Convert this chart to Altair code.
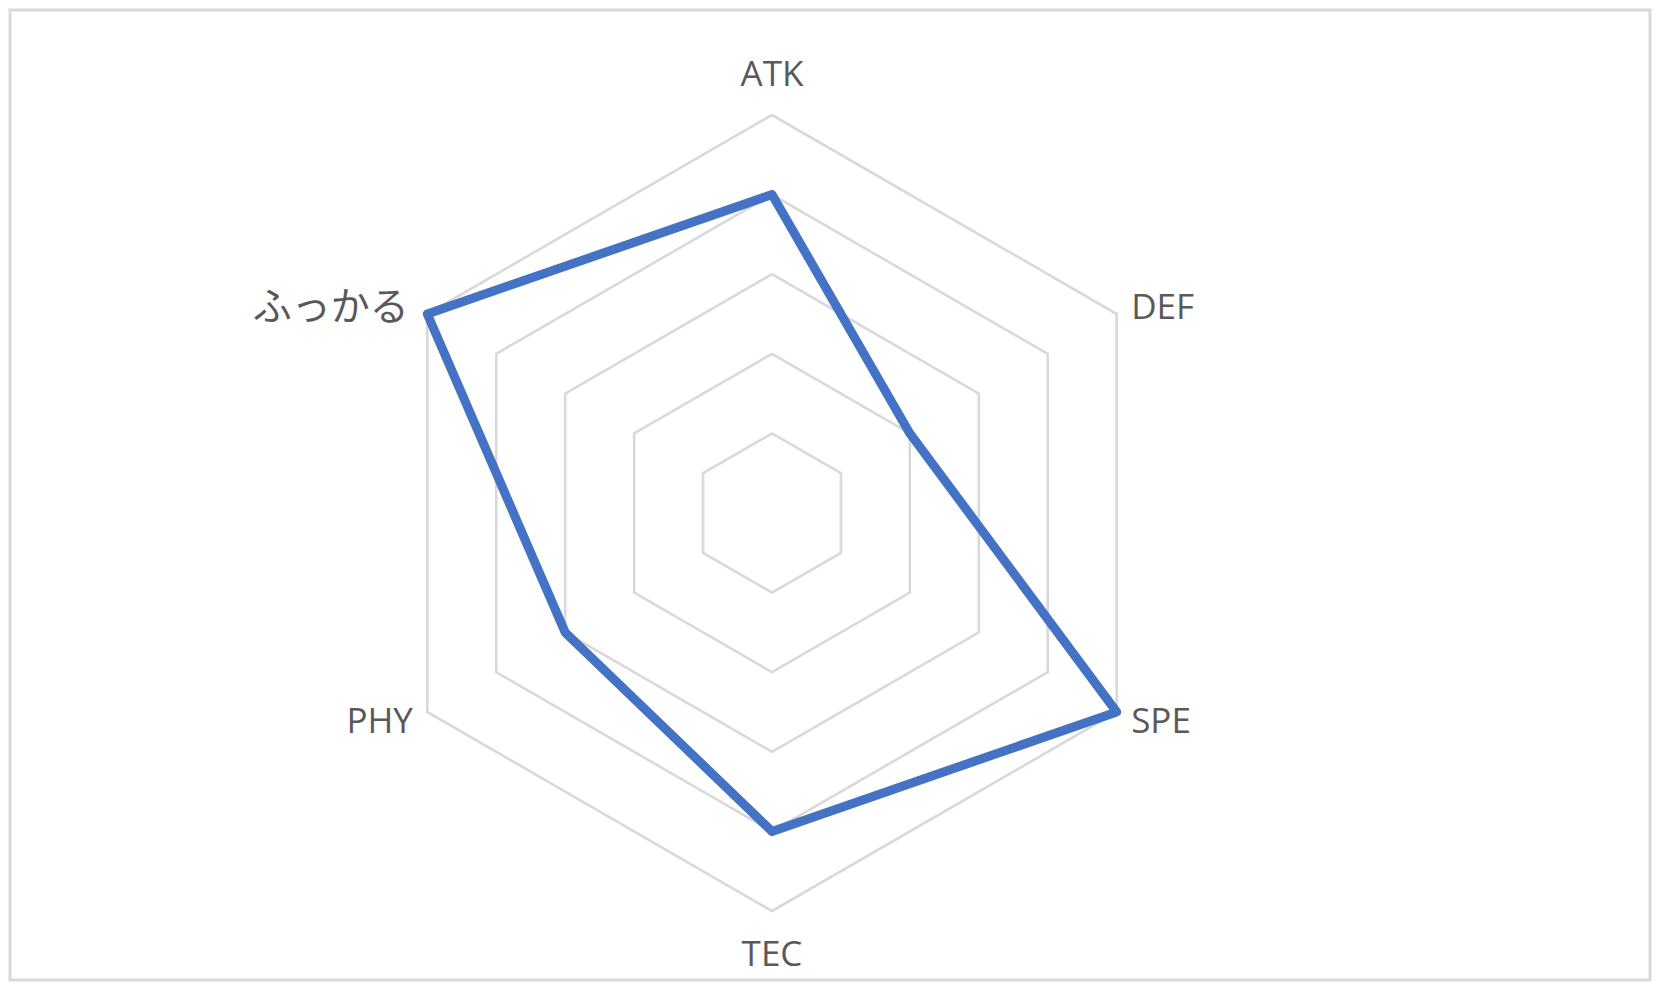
import altair as alt
import pandas as pd

# ---- data ----
categories = ["ATK", "DEF", "SPE", "TEC", "PHY", "ふっかる"]
values = [4, 2, 5, 4, 3, 5]
levels = [1, 2, 3, 4, 5]

n = len(categories)

grid_rows = []
for lv in levels:
    for i in range(n + 1):
        grid_rows.append({"level": lv, "idx": i, "k": i % n, "r": lv})
grid_df = pd.DataFrame(grid_rows)

series_df = pd.DataFrame({
    "idx": list(range(n + 1)),
    "k": [i % n for i in range(n + 1)],
    "r": values + values[:1],
})
label_df = pd.DataFrame({"k": list(range(n)), "label": categories})

PX = 79.6          # pixels per unit
W, H = 1640, 970
CX, CY = 762, 503  # centre in view coordinates

xscale = alt.Scale(domain=[-CX / PX, (W - CX) / PX], nice=False, zero=False)
yscale = alt.Scale(domain=[-(H - CY) / PX, CY / PX], nice=False, zero=False)

grid = alt.Chart(grid_df).transform_calculate(
    ang="datum.k * 2 * PI / 6"
).transform_calculate(
    px="datum.r * sin(datum.ang)", py="datum.r * cos(datum.ang)"
).mark_line(color="#d9d9d9", strokeWidth=2.6, strokeJoin="round").encode(
    x=alt.X("px:Q", scale=xscale, axis=None),
    y=alt.Y("py:Q", scale=yscale, axis=None),
    detail="level:N",
    order=alt.Order("idx:Q"),
)

series = alt.Chart(series_df).transform_calculate(
    ang="datum.k * 2 * PI / 6"
).transform_calculate(
    px="datum.r * sin(datum.ang)", py="datum.r * cos(datum.ang)"
).mark_line(color="#4472C4", strokeWidth=9, strokeJoin="round", strokeCap="round").encode(
    x=alt.X("px:Q", scale=xscale, axis=None),
    y=alt.Y("py:Q", scale=yscale, axis=None),
    order=alt.Order("idx:Q"),
)

lab_base = alt.Chart(label_df).transform_calculate(
    ang="datum.k * 2 * PI / 6"
).transform_calculate(
    lr="abs(cos(datum.ang)) > 0.99 ? 5.53 : 5.21"
).transform_calculate(
    px="datum.lr * sin(datum.ang)", py="datum.lr * cos(datum.ang)",
    latin="test(/^[A-Za-z]+$/, datum.label) ? 1 : 0",
)

enc = dict(
    x=alt.X("px:Q", scale=xscale, axis=None),
    y=alt.Y("py:Q", scale=yscale, axis=None),
    text="label:N",
)

lab_center = lab_base.transform_filter("abs(sin(datum.ang)) < 0.1").mark_text(
    align="center", baseline="middle", font="Open Sans", fontSize=35, color="#595959", dy=2
).encode(**enc)

lab_left = lab_base.transform_filter("sin(datum.ang) > 0.1").mark_text(
    align="left", baseline="middle", font="Open Sans", fontSize=35, color="#595959", dy=2
).encode(**enc)

lab_right = lab_base.transform_filter("sin(datum.ang) < -0.1 && datum.latin == 1").mark_text(
    align="right", baseline="middle", font="Open Sans", fontSize=35, color="#595959", dy=2
).encode(**enc)

lab_right_jp = lab_base.transform_filter("sin(datum.ang) < -0.1 && datum.latin == 0").mark_text(
    align="right", baseline="middle", font="Noto Sans CJK JP", fontSize=39,
    color="#595959", dy=2, dx=-4
).encode(**enc)

chart = alt.layer(grid, series, lab_center, lab_left, lab_right, lab_right_jp).properties(
    width=W, height=H,
    padding={"left": 2, "top": 2, "right": 2, "bottom": 2},
    autosize=alt.AutoSizeParams(type="none"),
    background="white",
).configure_view(stroke="#d9d9d9", strokeWidth=3)

chart.save("out.html", embed_options={"renderer": "svg", "actions": False})
